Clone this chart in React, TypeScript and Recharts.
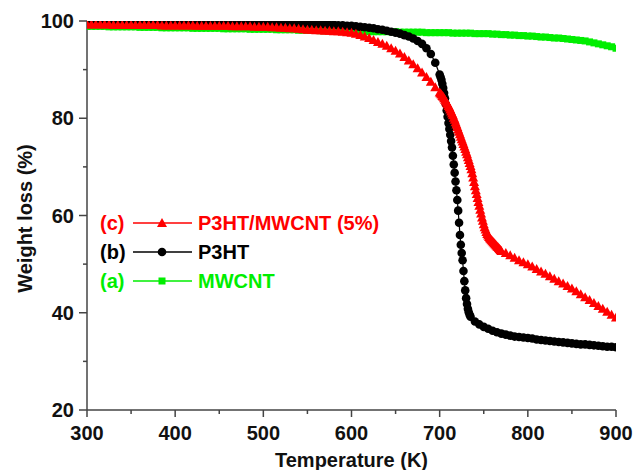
import { LineChart, Line, XAxis, YAxis, Legend } from 'recharts';

// (a) MWCNT: temperature grid (K) and weight (%)
const tempsA = [
  300, 305, 310, 315, 320, 325, 330, 335, 340, 345,
  350, 355, 360, 365, 370, 375, 380, 385, 390, 395,
  400, 405, 410, 415, 420, 425, 430, 435, 440, 445,
  450, 455, 460, 465, 470, 475, 480, 485, 490, 495,
  500, 505, 510, 515, 520, 525, 530, 535, 540, 545,
  550, 555, 560, 565, 570, 575, 580, 585, 590, 595,
  600, 605, 610, 615, 620, 625, 630, 635, 640, 645,
  650, 655, 660, 665, 670, 675, 680, 685, 690, 695,
  700, 705, 710, 715, 720, 725, 730, 735, 740, 745,
  750, 755, 760, 765, 770, 775, 780, 785, 790, 795,
  800, 805, 810, 815, 820, 825, 830, 835, 840, 845,
  850, 855, 860, 865, 870, 875, 880, 885, 890, 895,
  900,
];

const mwcnt = [
  98.9, 98.9, 98.9, 98.9, 98.9, 98.8, 98.8, 98.8, 98.8, 98.8,
  98.8, 98.8, 98.7, 98.7, 98.7, 98.7, 98.7, 98.6, 98.6, 98.6,
  98.6, 98.6, 98.6, 98.6, 98.5, 98.5, 98.5, 98.5, 98.5, 98.5,
  98.5, 98.4, 98.4, 98.4, 98.4, 98.4, 98.4, 98.3, 98.3, 98.3,
  98.3, 98.3, 98.3, 98.2, 98.2, 98.2, 98.2, 98.2, 98.1, 98.1,
  98.1, 98.1, 98.1, 98.0, 98.0, 98.0, 98.0, 98.0, 97.9, 97.9,
  97.9, 97.9, 97.9, 97.9, 97.8, 97.8, 97.8, 97.8, 97.8, 97.8,
  97.8, 97.7, 97.7, 97.7, 97.7, 97.7, 97.7, 97.6, 97.6, 97.6,
  97.6, 97.6, 97.6, 97.5, 97.5, 97.5, 97.5, 97.5, 97.4, 97.4,
  97.4, 97.4, 97.3, 97.3, 97.2, 97.2, 97.1, 97.1, 97.0, 97.0,
  96.9, 96.9, 96.8, 96.7, 96.7, 96.6, 96.5, 96.5, 96.4, 96.3,
  96.2, 96.1, 96.0, 95.9, 95.7, 95.5, 95.3, 95.1, 94.9, 94.7,
  94.4,
];

// (c) P3HT/MWCNT (5%), denser sampling through the step
const tempsC = [
  300, 305, 310, 315, 320, 325, 330, 335, 340, 345,
  350, 355, 360, 365, 370, 375, 380, 385, 390, 395,
  400, 405, 410, 415, 420, 425, 430, 435, 440, 445,
  450, 455, 460, 465, 470, 475, 480, 485, 490, 495,
  500, 505, 510, 515, 520, 525, 530, 535, 540, 545,
  550, 555, 560, 565, 570, 575, 580, 585, 590, 595,
  600, 605, 610, 615, 620, 625, 630, 635, 640, 645,
  650, 655, 660, 665, 670, 675, 680, 685, 690, 695,
  700, 701, 702, 703, 704, 705, 706, 707, 708, 709,
  710, 711, 712, 713, 714, 715, 716, 717, 718, 719,
  720, 721, 722, 723, 724, 725, 726, 727, 728, 729,
  730, 731, 732, 733, 734, 735, 736, 737, 738, 739,
  740, 741, 742, 743, 744, 745, 746, 747, 748, 749,
  750, 751, 752, 753, 754, 755, 756, 757, 758, 759,
  760, 761, 762, 763, 764, 765, 766, 767, 768, 769,
  770,
  775, 780, 785, 790, 795,
  800, 805, 810, 815, 820, 825, 830, 835, 840, 845,
  850, 855, 860, 865, 870, 875, 880, 885, 890, 895,
  900,
];

const composite = [
  99.3, 99.3, 99.3, 99.3, 99.3, 99.3, 99.2, 99.2, 99.2, 99.2,
  99.2, 99.2, 99.2, 99.2, 99.2, 99.2, 99.2, 99.1, 99.1, 99.1,
  99.1, 99.1, 99.1, 99.1, 99.1, 99.0, 99.0, 99.0, 99.0, 99.0,
  99.0, 99.0, 99.0, 98.9, 98.9, 98.9, 98.9, 98.9, 98.8, 98.8,
  98.8, 98.8, 98.7, 98.7, 98.6, 98.6, 98.5, 98.5, 98.4, 98.3,
  98.2, 98.2, 98.1, 98.1, 98.0, 98.0, 97.9, 97.9, 97.8, 97.7,
  97.6, 97.4, 97.1, 96.8, 96.5, 96.1, 95.7, 95.3, 94.9, 94.4,
  93.9, 93.3, 92.6, 91.9, 91.1, 90.3, 89.4, 88.5, 87.5, 86.4,
  85.3, 85.1, 84.9, 84.6, 84.4, 84.1, 83.8, 83.5, 83.2, 82.9,
  82.5, 82.2, 81.8, 81.4, 81.0, 80.6, 80.1, 79.7, 79.2, 78.7,
  78.2, 77.7, 77.2, 76.7, 76.2, 75.7, 75.2, 74.7, 74.2, 73.7,
  73.1, 72.6, 72.0, 71.4, 70.8, 70.2, 69.5, 68.7, 67.8, 66.9,
  66.0, 65.2, 64.4, 63.6, 62.8, 62.0, 61.2, 60.4, 59.6, 58.9,
  58.2, 57.6, 57.1, 56.6, 56.2, 55.9, 55.6, 55.3, 55.1, 54.9,
  54.7, 54.5, 54.3, 54.1, 53.9, 53.7, 53.5, 53.3, 53.1, 52.9,
  52.7,
  52.3, 51.8, 51.3, 50.8, 50.4,
  50.0, 49.5, 49.0, 48.5, 48.0, 47.5, 47.0, 46.5, 46.0, 45.5,
  45.0, 44.4, 43.8, 43.2, 42.6, 42.0, 41.4, 40.8, 40.2, 39.6,
  39.0,
];

// (b) P3HT, denser sampling through the main step
const tempsB = [
  300, 305, 310, 315, 320, 325, 330, 335, 340, 345,
  350, 355, 360, 365, 370, 375, 380, 385, 390, 395,
  400, 405, 410, 415, 420, 425, 430, 435, 440, 445,
  450, 455, 460, 465, 470, 475, 480, 485, 490, 495,
  500, 505, 510, 515, 520, 525, 530, 535, 540, 545,
  550, 555, 560, 565, 570, 575, 580, 585, 590, 595,
  600, 605, 610, 615, 620, 625, 630, 635, 640, 645,
  650, 655, 660, 665, 670, 675, 680, 685, 690, 695,
  700, 701, 702, 703, 704, 705, 706, 707, 708, 709,
  710, 711, 712, 713, 714, 715, 716, 717, 718, 719,
  720, 721, 722, 723, 724, 725, 726, 727, 728, 729,
  730, 731, 732, 733, 734, 735,
  740, 745, 750, 755, 760, 765, 770, 775, 780, 785,
  790, 795, 800, 805, 810, 815, 820, 825, 830, 835,
  840, 845, 850, 855, 860, 865, 870, 875, 880, 885,
  890, 895, 900,
];

const p3ht = [
  99.8, 99.8, 99.8, 99.8, 99.8, 99.8, 99.8, 99.8, 99.8, 99.8,
  99.8, 99.8, 99.8, 99.8, 99.8, 99.8, 99.8, 99.8, 99.8, 99.8,
  99.8, 99.8, 99.8, 99.8, 99.8, 99.8, 99.8, 99.8, 99.8, 99.8,
  99.8, 99.8, 99.8, 99.8, 99.7, 99.7, 99.7, 99.7, 99.7, 99.7,
  99.7, 99.7, 99.7, 99.6, 99.6, 99.6, 99.6, 99.5, 99.5, 99.5,
  99.4, 99.4, 99.3, 99.3, 99.3, 99.2, 99.2, 99.1, 99.1, 99.0,
  99.0, 98.9, 98.8, 98.7, 98.6, 98.5, 98.3, 98.2, 98.0, 97.8,
  97.6, 97.4, 97.1, 96.8, 96.4, 95.9, 95.3, 94.4, 93.2, 91.4,
  89.0, 88.5, 87.9, 87.1, 86.2, 85.2, 84.1, 82.9, 81.6, 80.3,
  79.0, 77.8, 76.6, 75.3, 74.0, 72.3, 70.5, 68.8, 67.0, 65.2,
  63.2, 61.0, 58.5, 56.0, 54.0, 52.3, 50.8, 48.6, 46.5, 44.6,
  43.0, 41.8, 40.8, 40.1, 39.6, 39.2,
  38.2, 37.6, 37.1, 36.7, 36.3, 36.0, 35.7, 35.5, 35.3, 35.1,
  35.0, 34.9, 34.8, 34.7, 34.5, 34.4, 34.3, 34.2, 34.1, 34.0,
  33.9, 33.8, 33.7, 33.6, 33.5, 33.5, 33.4, 33.3, 33.2, 33.1,
  33.0, 33.0, 32.9,
];

const xTicks = [300, 350, 400, 450, 500, 550, 600, 650, 700, 750, 800, 850, 900];
const yTicks = [20, 30, 40, 50, 60, 70, 80, 90, 100];

const RED = '#ff0000';
const GREEN = '#00ee00';
const BLACK = '#000000';
const AXIS = '#444444';
const FONT = '"Liberation Sans", Arial, sans-serif';

const dataA = tempsA.map((t, i) => ({ t, v: mwcnt[i] }));
const dataB = tempsB.map((t, i) => ({ t, v: p3ht[i] }));
const dataC = tempsC.map((t, i) => ({ t, v: composite[i] }));

const square = (cx: number, cy: number, color: string, key?: any) => (
  <rect key={key} x={cx - 3.5} y={cy - 3.5} width={7} height={7} fill={color} />
);
const circle = (cx: number, cy: number, color: string, key?: any) => (
  <circle key={key} cx={cx} cy={cy} r={4.3} fill={color} />
);
const triangle = (cx: number, cy: number, color: string, key?: any) => (
  <polygon key={key} points={`${cx},${cy - 5} ${cx + 5},${cy + 4} ${cx - 5},${cy + 4}`} fill={color} />
);

const dotOf = (fn: any, color: string) => (p: any) => fn(p.cx, p.cy, color, p.index);

const XTick = ({ x, y, payload }: any) => {
  const major = payload.value % 100 === 0;
  return (
    <g>
      <line x1={x} y1={y} x2={x} y2={y + (major ? 7 : 4)} stroke={AXIS} strokeWidth={1.5} />
      {major && (
        <text x={x} y={y + 30} textAnchor="middle" fontFamily={FONT} fontWeight="bold" fontSize={20} fill="#111">
          {payload.value}
        </text>
      )}
    </g>
  );
};

const YTick = ({ x, y, payload }: any) => {
  const major = payload.value % 20 === 0;
  return (
    <g>
      <line x1={x} y1={y} x2={x - (major ? 8 : 4)} y2={y} stroke={AXIS} strokeWidth={1.5} />
      {major && (
        <text x={x - 13} y={y + 7} textAnchor="end" fontFamily={FONT} fontWeight="bold" fontSize={20} fill="#111">
          {payload.value}
        </text>
      )}
    </g>
  );
};

const legendRows = [
  { tag: '(c)', name: 'P3HT/MWCNT (5%)', color: RED, mark: triangle },
  { tag: '(b)', name: 'P3HT', color: BLACK, mark: circle },
  { tag: '(a)', name: 'MWCNT', color: GREEN, mark: square },
];

const LegendBox = () => (
  <svg width={320} height={90} style={{ display: 'block' }}>
    {legendRows.map((r, i) => {
      const cy = 15 + i * 29;
      return (
        <g key={r.tag}>
          <text x={5} y={cy + 7} fontFamily={FONT} fontWeight="bold" fontSize={20} fill={r.color}>{r.tag}</text>
          <line x1={38} y1={cy} x2={97} y2={cy} stroke={r.color} strokeWidth={1.5} />
          {r.mark(67, cy, r.color)}
          <text x={103} y={cy + 7} fontFamily={FONT} fontWeight="bold" fontSize={20} fill={r.color}>{r.name}</text>
        </g>
      );
    })}
  </svg>
);

export default function App() {
  return (
    <div style={{ position: 'absolute', left: 0, top: 0, background: '#fff' }}>
      <LineChart width={638} height={470} margin={{ top: 21, right: 22, bottom: 0, left: 0 }}>
        <XAxis
          xAxisId="bottom"
          dataKey="t"
          type="number"
          domain={[300, 900]}
          ticks={xTicks}
          interval={0}
          allowDataOverflow
          height={60}
          tickSize={0}
          tickMargin={0}
          tickLine={false}
          tick={<XTick />}
          axisLine={{ stroke: AXIS, strokeWidth: 1.5 }}
          label={({ viewBox }: any) => (
            <text x={viewBox.x + viewBox.width / 2} y={viewBox.y + 57} textAnchor="middle" fontFamily={FONT} fontWeight="bold" fontSize={20} fill="#111">
              Temperature (K)
            </text>
          )}
        />
        <XAxis
          xAxisId="top"
          orientation="top"
          dataKey="t"
          type="number"
          domain={[300, 900]}
          ticks={xTicks}
          interval={0}
          height={0}
          mirror
          tick={false}
          tickSize={5}
          tickLine={{ stroke: AXIS, strokeWidth: 1.5 }}
          axisLine={{ stroke: AXIS, strokeWidth: 1.5 }}
        />
        <YAxis
          yAxisId="left"
          type="number"
          domain={[20, 100]}
          ticks={yTicks}
          interval={0}
          allowDataOverflow
          width={87}
          tickSize={0}
          tickMargin={0}
          tickLine={false}
          tick={<YTick />}
          axisLine={{ stroke: AXIS, strokeWidth: 1.5 }}
          label={({ viewBox }: any) => {
            const cx = 32;
            const cy = viewBox.y + viewBox.height / 2 + 3;
            return (
              <text x={cx} y={cy} transform={`rotate(-90 ${cx} ${cy})`} textAnchor="middle" fontFamily={FONT} fontWeight="bold" fontSize={20} fill="#111">
                Weight loss (%)
              </text>
            );
          }}
        />
        <YAxis
          yAxisId="right"
          orientation="right"
          type="number"
          domain={[20, 100]}
          width={0}
          tick={false}
          tickLine={false}
          axisLine={{ stroke: AXIS, strokeWidth: 1.5 }}
        />
        <Legend
          layout="vertical"
          align="center"
          verticalAlign="middle"
          content={() => <LegendBox />}
          wrapperStyle={{ position: 'absolute', left: 95, top: 208, width: 320, height: 90 }}
        />
        <Line
          xAxisId="bottom"
          yAxisId="left"
          data={dataA}
          dataKey="v"
          name="MWCNT"
          stroke={GREEN}
          strokeWidth={1}
          dot={dotOf(square, GREEN)}
          isAnimationActive={false}
        />
        <Line
          xAxisId="bottom"
          yAxisId="left"
          data={dataB}
          dataKey="v"
          name="P3HT"
          stroke={BLACK}
          strokeWidth={1.2}
          dot={dotOf(circle, BLACK)}
          isAnimationActive={false}
        />
        <Line
          xAxisId="bottom"
          yAxisId="left"
          data={dataC}
          dataKey="v"
          name="P3HT/MWCNT (5%)"
          stroke={RED}
          strokeWidth={1}
          dot={dotOf(triangle, RED)}
          isAnimationActive={false}
        />
      </LineChart>
    </div>
  );
}
